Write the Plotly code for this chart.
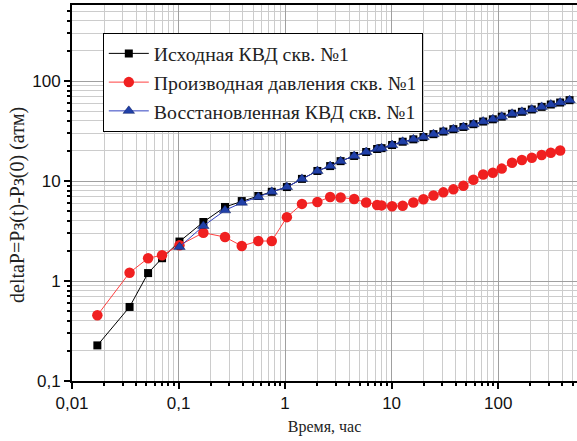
import plotly.graph_objects as go

# Time, hours
time_h = [0.0173, 0.0347, 0.0518, 0.070, 0.102, 0.171, 0.273, 0.392, 0.561, 0.75,
          1.04, 1.44, 2.01, 2.65, 3.32, 4.45, 5.77, 7.31, 8.05, 10.1,
          12.7, 16.0, 19.9, 24.7, 30.6, 38.0, 47.2, 58.6, 72.3, 89.1,
          108, 135, 167, 207, 256, 312, 382, 468]

# Исходная КВД
src_kvd = [0.227, 0.55, 1.2, 1.69, 2.48, 3.89, 5.5, 6.3, 7.08, 7.8,
           8.7, 10.5, 12.6, 14.1, 15.8, 17.8, 19.5, 20.9, 21.3, 22.9,
           24.7, 26.1, 27.5, 29.4, 31.2, 33.0, 34.7, 37.0, 39.3, 41.4,
           44.0, 47.1, 49.2, 51.9, 55.1, 58.2, 60.9, 64.3]

# Производная давления
deriv = [0.454, 1.21, 1.69, 1.81, 2.28, 3.04, 2.75, 2.24, 2.51, 2.51,
         4.35, 5.9, 6.17, 6.92, 6.85, 6.6, 6.1, 5.75, 5.7, 5.6,
         5.65, 6.1, 6.56, 7.15, 7.7, 8.25, 8.95, 10.3, 11.6, 12.1,
         13.3, 15.2, 16.2, 17.1, 18.2, 19.2, 20.2]

# Восстановленная КВД (from 0.1 h)
rest_kvd = [2.19, 3.55, 5.09, 6.07, 6.92, 7.8,
            8.7, 10.5, 12.6, 14.1, 15.8, 17.8, 19.5, 20.9, 21.3, 22.9,
            24.7, 26.1, 27.5, 29.4, 31.2, 33.0, 34.7, 37.0, 39.3, 41.4,
            44.0, 47.1, 49.2, 51.9, 55.1, 58.2, 60.9, 64.3]

x_tickvals = [0.01, 0.1, 1, 10, 100]
x_ticktext = ["0,01", "0,1", "1", "10", "100"]
y_tickvals = [0.1, 1, 10, 100]
y_ticktext = ["0,1", "1", "10", "100"]

names = ["Исходная КВД скв. №1", "Производная давления скв. №1", "Восстановленная КВД скв. №1"]

serif = "Liberation Serif, Times New Roman, serif"
sans = "Liberation Sans, Arial, sans-serif"

fig = go.Figure()
fig.add_trace(go.Scatter(x=time_h, y=src_kvd, name=names[0], mode="lines+markers",
                         line=dict(color="black", width=1),
                         marker=dict(symbol="square", size=8, color="black")))
fig.add_trace(go.Scatter(x=time_h[:len(deriv)], y=deriv, name=names[1], mode="lines+markers",
                         line=dict(color="#ff4040", width=1),
                         marker=dict(symbol="circle", size=10.5, color="#f02020")))
fig.add_trace(go.Scatter(x=time_h[len(time_h) - len(rest_kvd):], y=rest_kvd, name=names[2],
                         mode="lines+markers",
                         line=dict(color="#3040c0", width=1),
                         marker=dict(symbol="triangle-up", size=10, color="#2040a8",
                                     line=dict(color="#102060", width=0.5))))

minor_x = [k * 10 ** n for n in range(-2, 3) for k in range(2, 10)]
minor_y = [k * 10 ** n for n in range(-1, 3) for k in range(2, 10)]

fig.update_layout(
    width=577, height=441,
    margin=dict(l=72, r=0, t=5, b=60, autoexpand=False),
    paper_bgcolor="white", plot_bgcolor="white",
    showlegend=True,
    legend=dict(x=0.061, y=0.9255, xanchor="left", yanchor="top",
                bgcolor="white", bordercolor="black", borderwidth=1,
                font=dict(family=serif, size=19.8, color="#222"),
                tracegroupgap=0, itemwidth=40),
    xaxis=dict(type="log", range=[-2, 2.74], tickvals=x_tickvals, ticktext=x_ticktext,
               ticks="outside", ticklen=6, tickwidth=1.5, tickcolor="black",
               showline=True, linecolor="black", linewidth=2, mirror=True,
               showgrid=True, gridcolor="#a0a0a0", gridwidth=1, automargin=False,
               tickfont=dict(family=sans, size=17, color="#111"),
               title=dict(text="Время, час", font=dict(family=serif, size=16, color="#222"), standoff=8),
               minor=dict(tickvals=minor_x, ticks="outside", ticklen=3, tickcolor="black",
                          showgrid=True, gridcolor="#cccccc", gridwidth=1),
               zeroline=False),
    yaxis=dict(type="log", range=[-1, 2.76], tickvals=y_tickvals, ticktext=y_ticktext,
               ticks="outside", ticklen=6, tickwidth=1.5, tickcolor="black",
               showline=True, linecolor="black", linewidth=2, automargin=False,
               showgrid=True, gridcolor="#a0a0a0", gridwidth=1,
               tickfont=dict(family=sans, size=17, color="#111"),
               minor=dict(tickvals=minor_y, ticks="outside", ticklen=3, tickcolor="black",
                          showgrid=True, gridcolor="#cccccc", gridwidth=1),
               zeroline=False),
    annotations=[dict(text="deltaP=Pз(t)-Pз(0) (атм)", textangle=-90,
                      xref="paper", yref="paper", x=(17 - 72) / 505, y=(381 - 205) / 376,
                      xanchor="center", yanchor="middle", showarrow=False,
                      font=dict(family=serif, size=20, color="#222"))],
)

fig.write_html("out.html", config={"displayModeBar": False},
               post_script="document.body.style.margin='0';document.body.style.padding='0';")
